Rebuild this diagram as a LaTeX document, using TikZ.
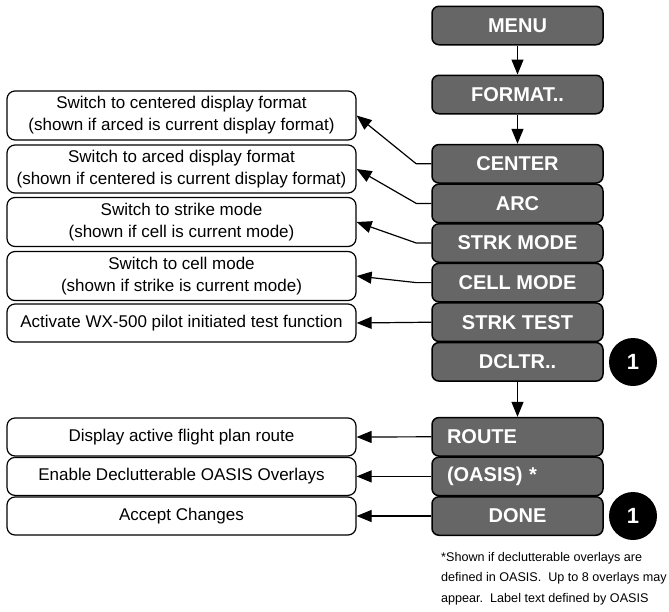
\documentclass[tikz,border=0pt]{standalone}
\usepackage{fontspec}
\setmainfont{Liberation Sans}
\usetikzlibrary{arrows.meta}
\definecolor{btngray}{HTML}{666666}
\tikzset{
  btn/.style={draw=black, line width=1.5pt, fill=btngray, rounded corners=7pt,
    minimum width=171pt, minimum height=38.5pt, inner sep=0pt,
    text=white, font=\fontsize{20}{22}\selectfont\bfseries},
  btnl/.style={btn, text width=141pt, align=left, inner xsep=15pt},
  desc/.style={draw=black, line width=1.2pt, fill=white, rounded corners=8pt,
    minimum width=349pt, inner sep=0pt, align=center,
    font=\fontsize{17}{22}\selectfont},
  conn/.style={draw=black, line width=1.2pt, -{Triangle[length=15pt,width=12pt]}},
  num/.style={circle, fill=black, minimum size=48pt, inner sep=0pt,
    text=white, font=\fontsize{22}{24}\selectfont\bfseries},
  note/.style={anchor=north west, align=left, inner sep=0pt,
    font=\fontsize{12.6}{20.5}\selectfont}
}
\begin{document}
\begin{tikzpicture}[x=1pt,y=-1pt]
\useasboundingbox (0,0) rectangle (669,611);
% buttons
\node[btn] (menu)   at (517.5,25.5)  {MENU};
\node[btn] (format) at (517.5,94.5)  {FORMAT..};
\node[btn] (center) at (517.5,163.8) {CENTER};
\node[btn] (arc)    at (517.5,203.4) {ARC};
\node[btn] (strk)   at (517.5,243.0) {STRK MODE};
\node[btn] (cell)   at (517.5,282.6) {CELL MODE};
\node[btn] (test)   at (517.5,322.2) {STRK TEST};
\node[btn] (dcltr)  at (517.5,361.8) {DCLTR..};
\node[btnl] (route) at (517.5,436.8) {ROUTE};
\node[btnl] (oasis) at (517.5,476.4) {(OASIS) *};
\node[btn] (done)   at (517.5,516.0) {DONE};
% numbered circles
\node[num] (n1) at (633,362) {1};
\node[num] (n2) at (633,516) {1};
% description boxes
\node[desc, minimum height=49pt] (d1) at (181.5,115.5) {Switch to centered display format\\(shown if arced is current display format)};
\node[desc, minimum height=48pt] (d2) at (181.5,169) {Switch to arced display format\\(shown if centered is current display format)};
\node[desc, minimum height=49pt] (d3) at (181.5,222) {Switch to strike mode\\(shown if cell is current mode)};
\node[desc, minimum height=49pt] (d4) at (181.5,276) {Switch to cell mode\\(shown if strike is current mode)};
\node[desc, minimum height=38pt] (d5) at (181.5,323) {Activate WX-500 pilot initiated test function};
\node[desc, minimum height=38pt] (d6) at (181.5,437) {Display active flight plan route};
\node[desc, minimum height=38pt] (d7) at (181.5,476.4) {Enable Declutterable OASIS Overlays};
\node[desc, minimum height=38pt] (d8) at (181.5,516) {Accept Changes};
% vertical flow
\draw[conn] (menu.south) -- (format.north);
\draw[conn] (format.south) -- (center.north);
\draw[conn] (dcltr.south) -- (route.north);
% connectors to descriptions
\draw[conn] (center.west) -- ++(-15,0) -- (d1.east);
\draw[conn] (arc.west) -- ++(-15,0) -- (d2.east);
\draw[conn] (strk.west) -- ++(-15,0) -- (d3.east);
\draw[conn] (cell.west) -- ++(-15,0) -- (d4.east);
\draw[conn] (test.west) -- (d5.east);
\draw[conn] (route.west) -- (d6.east);
\draw[conn] (oasis.west) -- (d7.east);
\draw[conn] (done.west) -- (d8.east);
% footnote
\node[note] (fn) at (441,552) {*Shown if declutterable overlays are\\defined in OASIS.\ \ Up to 8 overlays may\\appear.\ \ Label text defined by OASIS};
\end{tikzpicture}
\end{document}
